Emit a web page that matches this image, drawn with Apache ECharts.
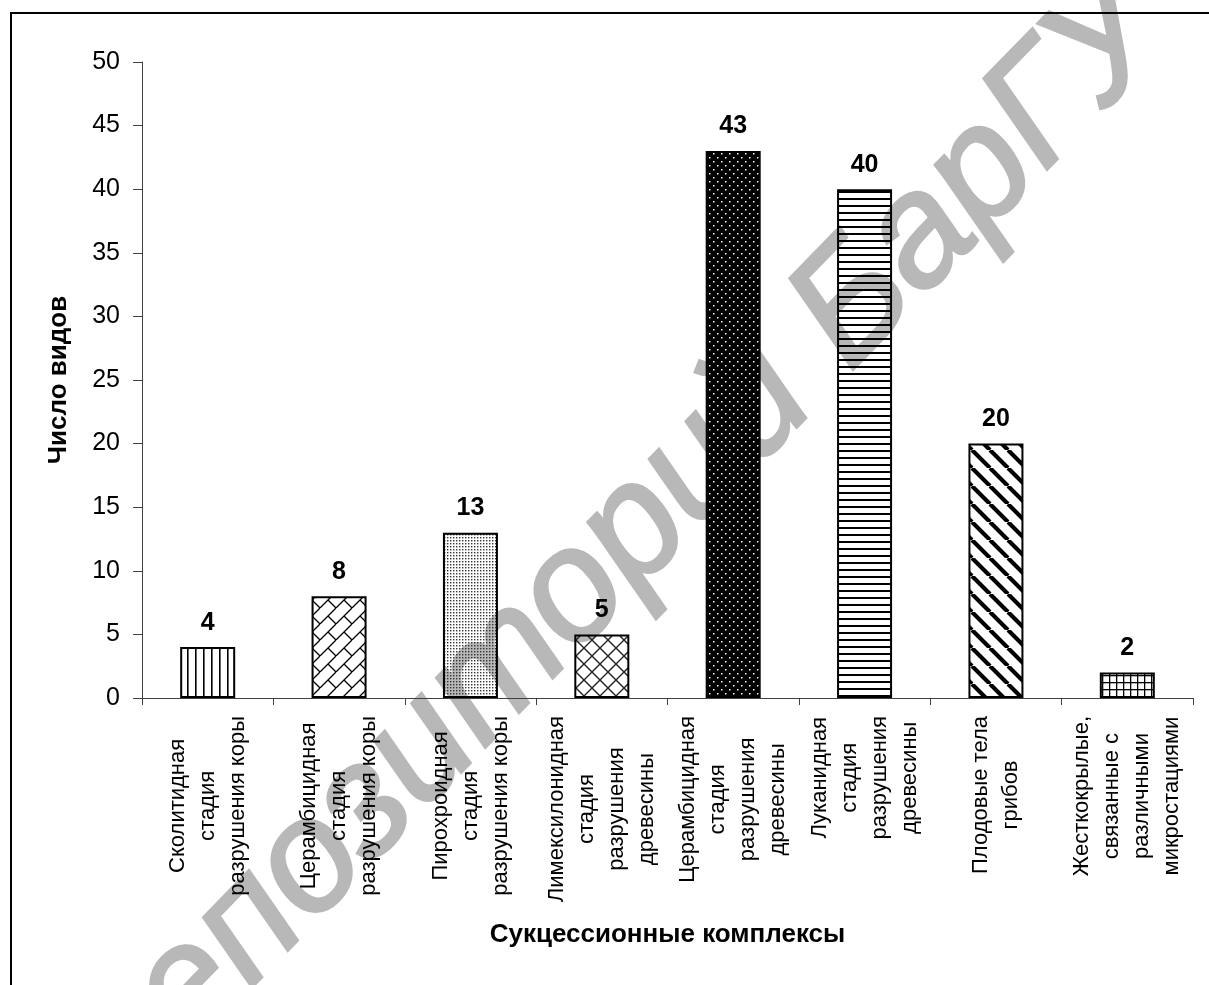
<!DOCTYPE html>
<html>
<head>
<meta charset="utf-8">
<script src="https://cdn.jsdelivr.net/npm/echarts@6/dist/echarts.min.js"></script>
<style>
  html, body { margin: 0; padding: 0; background: #fff; }
  #chart { width: 1209px; height: 985px; }
</style>
</head>
<body>
<div id="chart"></div>
<script>
// ---- Data ----
const categories = [
  "Сколитидная\nстадия\nразрушения коры",
  "Церамбицидная\nстадия\nразрушения коры",
  "Пирохроидная\nстадия\nразрушения коры",
  "Лимексилонидная\nстадия\nразрушения\nдревесины",
  "Церамбицидная\nстадия\nразрушения\nдревесины",
  "Луканидная\nстадия\nразрушения\nдревесины",
  "Плодовые тела\nгрибов",
  "Жесткокрылые,\nсвязанные с\nразличными\nмикростациями"
];
const speciesCounts = [4, 8, 13, 5, 43, 40, 20, 2];
const patternKinds = ["vlines", "brick", "dots", "diamond", "darkdots", "hlines", "bdiag", "grid"];
const yAxisTitle = "Число видов";
const xAxisTitle = "Сукцессионные комплексы";
const watermarkText = "Репозиторий БарГУ";

const FONT = "'Liberation Sans', Arial, sans-serif";

// ---- Pattern tiles ----
function makeTile(kind) {
  const c = document.createElement('canvas');
  const ctx = c.getContext('2d');
  function size(n) { c.width = n; c.height = n; }
  switch (kind) {
    case 'vlines':
      size(8);
      ctx.fillStyle = '#000';
      ctx.fillRect(3, 0, 1.6, 8);
      break;
    case 'brick': {
      size(16);
      ctx.strokeStyle = '#000';
      ctx.lineWidth = 1.3;
      ctx.beginPath();
      for (let k = -1; k <= 1; k++) {
        ctx.moveTo(k * 16, 16); ctx.lineTo(k * 16 + 16, 0);
      }
      ctx.moveTo(8, 8); ctx.lineTo(16, 16);
      ctx.moveTo(-8, 8); ctx.lineTo(0, 16);
      ctx.moveTo(8, -8); ctx.lineTo(16, 0);
      ctx.stroke();
      break;
    }
    case 'dots':
      size(6);
      ctx.fillStyle = '#333';
      ctx.fillRect(0, 0, 1.4, 1.4);
      ctx.fillRect(3, 0, 1.4, 1.4);
      ctx.fillRect(0, 3, 1.4, 1.4);
      ctx.fillRect(3, 3, 1.4, 1.4);
      break;
    case 'diamond':
      size(16);
      ctx.strokeStyle = '#222';
      ctx.lineWidth = 1.4;
      ctx.beginPath();
      for (let k = -1; k <= 1; k++) {
        ctx.moveTo(k * 16, 0); ctx.lineTo(k * 16 + 16, 16);
        ctx.moveTo(k * 16, 16); ctx.lineTo(k * 16 + 16, 0);
      }
      ctx.stroke();
      break;
    case 'darkdots':
      size(8);
      ctx.fillStyle = '#000';
      ctx.fillRect(0, 0, 8, 8);
      ctx.fillStyle = '#fff';
      ctx.fillRect(1, 1, 1.5, 1.5);
      ctx.fillRect(5, 5, 1.5, 1.5);
      break;
    case 'hlines':
      size(7);
      ctx.fillStyle = '#000';
      ctx.fillRect(0, 2, 7, 2);
      break;
    case 'bdiag':
      size(18);
      ctx.strokeStyle = '#000';
      ctx.lineWidth = 4.2;
      ctx.beginPath();
      for (let k = -1; k <= 1; k++) {
        ctx.moveTo(k * 18, 0); ctx.lineTo(k * 18 + 18, 18);
      }
      ctx.stroke();
      break;
    case 'grid':
      size(7);
      ctx.fillStyle = '#000';
      ctx.fillRect(0, 3, 7, 1.3);
      ctx.fillRect(3, 0, 1.3, 7);
      break;
  }
  return { image: c, repeat: 'repeat' };
}

const barData = speciesCounts.map((v, i) => ({
  value: v,
  itemStyle: { color: makeTile(patternKinds[i]) }
}));

const chart = echarts.init(document.getElementById('chart'), null, { renderer: 'canvas' });

const option = {
  backgroundColor: '#fff',
  animation: false,
  grid: { left: 142, right: 16, top: 62, bottom: 287, containLabel: false },
  graphic: [
    {
      type: 'text',
      z: -10,
      x: 614, y: 552,
      rotation: 45.8 * Math.PI / 180,
      style: {
        text: watermarkText,
        fill: '#b8b8b8',
        stroke: '#b8b8b8',
        lineWidth: 3,
        font: 'italic 158px ' + FONT,
        align: 'center',
        verticalAlign: 'middle'
      }
    },
    {
      type: 'rect',
      z: 100,
      shape: { x: 11, y: 13, width: 1400, height: 1400 },
      style: { fill: 'none', stroke: '#000', lineWidth: 2 }
    }
  ],
  xAxis: {
    type: 'category',
    data: categories,
    name: xAxisTitle,
    nameLocation: 'middle',
    nameGap: 224,
    nameTextStyle: { fontFamily: FONT, fontSize: 26, fontWeight: 'bold', color: '#000', verticalAlign: 'top' },
    axisLine: { lineStyle: { color: '#404040', width: 1 } },
    axisTick: { show: true, length: 7, alignWithLabel: false, lineStyle: { color: '#404040' } },
    axisLabel: {
      interval: 0,
      rotate: 90,
      margin: 18,
      color: '#000',
      fontFamily: FONT,
      fontSize: 22,
      lineHeight: 30,
      formatter: function (val) {
        return val.split('\n').map(l => '{c|' + l + '}').join('\n');
      },
      rich: {
        c: { align: 'center', fontFamily: FONT, fontSize: 22, lineHeight: 30, color: '#000' }
      }
    },
    splitLine: { show: false }
  },
  yAxis: {
    type: 'value',
    min: 0,
    max: 50,
    interval: 5,
    name: yAxisTitle,
    nameLocation: 'middle',
    nameGap: 70,
    nameRotate: 90,
    nameTextStyle: { fontFamily: FONT, fontSize: 26, fontWeight: 'bold', color: '#000' },
    axisLine: { show: true, lineStyle: { color: '#404040', width: 1 } },
    axisTick: { show: true, length: 9, lineStyle: { color: '#404040' } },
    axisLabel: { margin: 22, color: '#000', fontFamily: FONT, fontSize: 25 },
    splitLine: { show: false }
  },
  series: [{
    type: 'bar',
    data: barData,
    barWidth: 55,
    itemStyle: { borderColor: '#000', borderWidth: 2 },
    label: {
      show: true,
      position: 'top',
      distance: 12,
      color: '#000',
      fontFamily: FONT,
      fontSize: 25,
      fontWeight: 'bold'
    }
  }]
};
chart.setOption(option);
</script>
</body>
</html>
